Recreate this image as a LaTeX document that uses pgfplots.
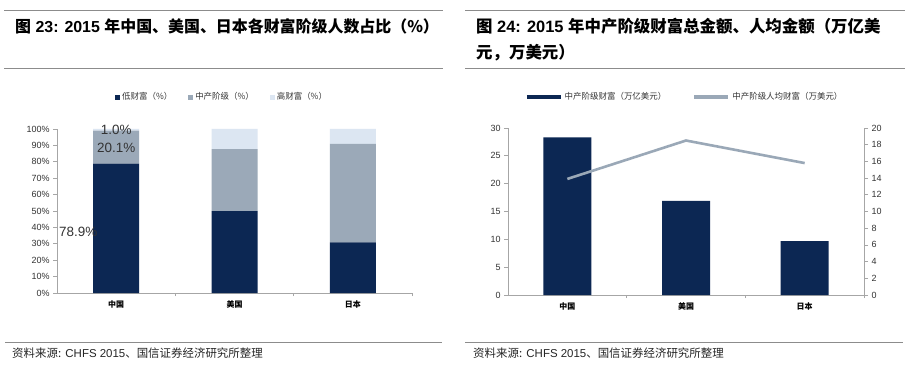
\documentclass[border=0pt]{standalone}
\usepackage{fontspec}
\setmainfont{Liberation Sans}
\newfontfamily\cjk{Noto Sans CJK SC}
\usepackage{pgfplots}
\pgfplotsset{compat=1.18}
\definecolor{navy}{HTML}{0C2753}
\definecolor{midg}{HTML}{9BA9B8}
\definecolor{lightb}{HTML}{DCE6F2}
\definecolor{lineg}{HTML}{9AA8B7}
\definecolor{axg}{HTML}{A6A6A6}
\definecolor{txt}{HTML}{333333}
\definecolor{rulec}{HTML}{8C8C8C}
\begin{document}
\begin{tikzpicture}[x=1bp,y=1bp]
\useasboundingbox (0,0) rectangle (913,370);
\fill[white] (0,0) rectangle (913,370);
% rules
\draw[rulec, line width=0.9bp] (4,360) -- (443,360);
\draw[rulec, line width=0.9bp] (4,302) -- (443,302);
\draw[rulec, line width=0.9bp] (465,360) -- (905,360);
\draw[rulec, line width=0.9bp] (465,302) -- (905,302);
\draw[rulec, line width=0.9bp] (5,28) -- (442,28);
\draw[rulec, line width=0.9bp] (465,28) -- (903,28);
% titles
\node[anchor=west, inner sep=0, font=\bfseries\fontsize{16}{18}\selectfont] at (15,344)
  {{\cjk\bfseries 图} 23: 2015 {\cjk\bfseries 年中国、美国、日本各财富阶级人数占比（\%）}};
\node[anchor=west, inner sep=0, font=\bfseries\fontsize{16.5}{18}\selectfont] at (476,344)
  {{\cjk\bfseries 图} 24: 2015 {\cjk\bfseries 年中产阶级财富总金额、人均金额（万亿美}};
\node[anchor=west, inner sep=0, font=\bfseries\fontsize{16.5}{18}\selectfont] at (476,317)
  {{\cjk\bfseries 元，万美元）}};
% sources
\node[anchor=west, inner sep=0, font=\fontsize{11.5}{12}\selectfont, text=black!85] at (12,17)
  {{\cjk 资料来源:} CHFS 2015{\cjk 、国信证券经济研究所整理}};
\node[anchor=west, inner sep=0, font=\fontsize{11.5}{12}\selectfont, text=black!85] at (473,17)
  {{\cjk 资料来源:} CHFS 2015{\cjk 、国信证券经济研究所整理}};

% ---------- left chart ----------
\begin{axis}[
  at={(57bp,77bp)}, anchor=south west, scale only axis,
  width=355bp, height=164bp,
  ybar stacked, bar width=46bp,
  xmin=-0.5, xmax=2.5, ymin=0, ymax=100,
  clip=false,
  axis x line*=bottom, axis y line*=left,
  axis line style={axg, line width=0.8bp, -},
  xtick={0,1,2}, xticklabels={中国,美国,日本},
  major x tick style={draw=none},
  minor xtick={0.5,1.5,2.5}, minor tick length=3bp,
  minor x tick style={axg, line width=0.8bp},
  ytick={0,10,...,100}, yticklabel={\pgfmathprintnumber{\tick}\%},
  tick align=outside, major tick length=4bp,
  major y tick style={axg, line width=0.8bp},
  yticklabel style={font=\fontsize{9}{9}\selectfont, text=txt},
  xticklabel style={font=\cjk\bfseries\fontsize{8}{8}\selectfont, text=black},
  /pgf/number format/assume math mode=true,
  legend style={at={(0.465,1.195)}, anchor=center, draw=none, fill=none,
    legend columns=3, font=\cjk\fontsize{8.5}{9}\selectfont, text=txt,
    /tikz/every even column/.append style={column sep=14bp}},
  legend image code/.code={\fill[#1] (0bp,-2.5bp) rectangle (5bp,2.5bp);},
  after end axis/.code={
    \node[font=\fontsize{13.5}{13.5}\selectfont, text=txt] at (axis cs:0,99.4) {1.0\%};
    \node[font=\fontsize{13.5}{13.5}\selectfont, text=txt] at (axis cs:0,88.6) {20.1\%};
    \node[font=\fontsize{13.5}{13.5}\selectfont, text=txt] at (axis cs:-0.32,37.2) {78.9\%};
  },
]
\addplot[fill=navy, draw=none] coordinates {(0,78.9) (1,50.0) (2,30.9)};
\addplot[fill=midg, draw=none] coordinates {(0,20.1) (1,37.8) (2,60.1)};
\addplot[fill=lightb, draw=none] coordinates {(0,1.0) (1,12.2) (2,9.0)};
\legend{低财富（\%）,中产阶级（\%）,高财富（\%）}
\end{axis}

% ---------- right chart ----------
\begin{axis}[
  at={(508bp,75bp)}, anchor=south west, scale only axis,
  width=356bp, height=167bp,
  ybar, bar width=48bp,
  xmin=-0.5, xmax=2.5, ymin=0, ymax=30,
  axis x line*=bottom, axis y line*=left,
  axis line style={axg, line width=0.8bp, -},
  xtick={0,1,2}, xticklabels={中国,美国,日本},
  major x tick style={draw=none},
  minor xtick={0.5,1.5,2.5}, minor tick length=3bp,
  minor x tick style={axg, line width=0.8bp},
  ytick={0,5,...,30},
  tick align=outside, major tick length=4bp,
  major y tick style={axg, line width=0.8bp},
  yticklabel style={font=\fontsize{9}{9}\selectfont, text=txt},
  xticklabel style={font=\cjk\bfseries\fontsize{8}{8}\selectfont, text=black},
  /pgf/number format/assume math mode=true,
]
\addplot[fill=navy, draw=none] coordinates {(0,28.3) (1,16.9) (2,9.7)};
\end{axis}
\begin{axis}[
  at={(508bp,75bp)}, anchor=south west, scale only axis,
  width=356bp, height=167bp,
  xmin=-0.5, xmax=2.5, ymin=0, ymax=20,
  axis x line=none, axis y line*=right,
  axis line style={axg, line width=0.8bp, -},
  ytick={0,2,...,20},
  tick align=outside, major tick length=4bp,
  major y tick style={axg, line width=0.8bp},
  yticklabel style={font=\fontsize{9}{9}\selectfont, text=txt},
  /pgf/number format/assume math mode=true,
  legend style={at={(0.496,1.186)}, anchor=center, draw=none, fill=none,
    legend columns=2, font=\cjk\fontsize{8.5}{9}\selectfont, text=txt,
    /tikz/every even column/.append style={column sep=24bp}},
  legend image code/.code={\draw[#1, line width=4bp] (0bp,0bp) -- (34bp,0bp);},
]
\addlegendimage{navy}
\addlegendentry{中产阶级财富（万亿美元）}
\addplot[lineg, line width=2.6bp, mark=none] coordinates {(0,13.9) (1,18.5) (2,15.8)};
\addlegendentry{中产阶级人均财富（万美元）}
\end{axis}
\end{tikzpicture}
\end{document}
